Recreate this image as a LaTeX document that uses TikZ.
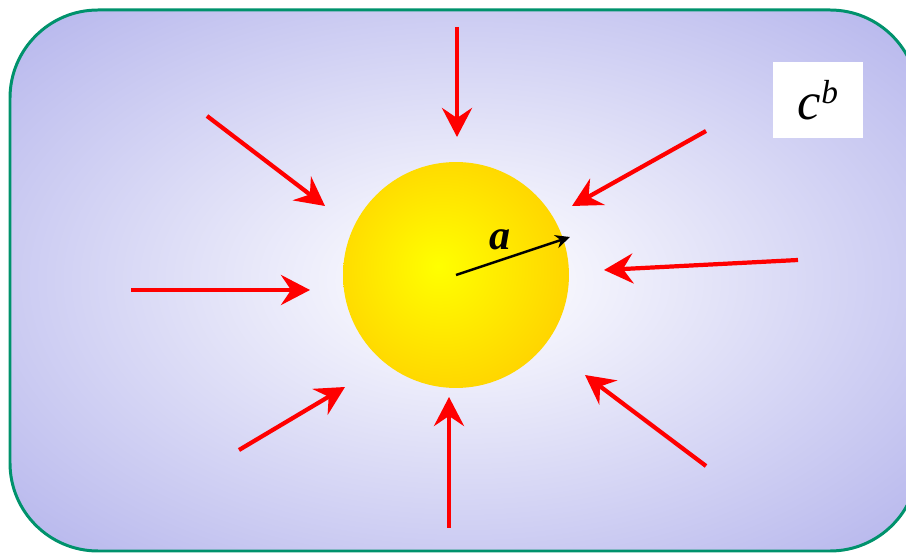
\documentclass[tikz,border=0pt]{standalone}
\usepackage{fontspec}
\setmainfont{Liberation Serif}
\usepackage{tikz}
\usetikzlibrary{arrows.meta}

\definecolor{bgin}{RGB}{246,246,253}
\definecolor{bgout}{RGB}{184,184,237}
\definecolor{bgedge}{RGB}{172,172,233}
\definecolor{sunin}{RGB}{255,255,0}
\definecolor{sunout}{RGB}{255,206,0}
\definecolor{panelline}{RGB}{0,146,108}

\pgfdeclareradialshading{bgglow}{\pgfpoint{0bp}{0bp}}{color(0bp)=(bgin); color(5bp)=(bgin); color(34bp)=(bgout); color(50bp)=(bgedge); color(72bp)=(bgedge)}
\pgfdeclareradialshading{sunglow}{\pgfpoint{-4bp}{2bp}}{color(0bp)=(sunin); color(32bp)=(sunout); color(60bp)=(sunout)}

\begin{document}
\begin{tikzpicture}[
  x=0.02cm, y=-0.02cm,
  panel/.style={draw=panelline, line width=1.7pt, rounded corners=1.76cm, shading=bgglow},
  sun/.style={circle, minimum size=4.52cm, inner sep=0pt, shading=sunglow},
  stamp/.style={rectangle, fill=white, minimum width=1.8cm, minimum height=1.52cm, inner sep=0pt},
  flux/.style={->, red, line width=2.4pt},
  ray/.style={-{Stealth[length=2.9mm,width=2.7mm]}, line width=1.4pt},
  >/.tip={Stealth[length=5.8mm,width=6mm,inset=2mm]}
]
\useasboundingbox (0,0) rectangle (906,553);
\clip (0,0) rectangle (906,553);

\path[panel] (10,10) rectangle (918,551);

\node (sun) at (456,275) [sun] {};
\node (cb) at (818,100) [stamp] {\fontsize{30}{32}\selectfont\itshape c\raisebox{9pt}{\fontsize{19}{20}\selectfont b}};

% radius
\coordinate (rim) at (570,237);
\draw [ray] (sun.center) -- (rim);
\node (a) at (500,240) {\fontsize{24}{26}\selectfont\bfseries\itshape a};

% inflow
\coordinate (Ns) at (457,27);   \coordinate (Ne) at (457,137);
\coordinate (NWs) at (207,116); \coordinate (NWe) at (325,206);
\coordinate (NEs) at (706,131); \coordinate (NEe) at (572,206);
\coordinate (Ws) at (131,290);  \coordinate (We) at (310,290);
\coordinate (Es) at (798,260);  \coordinate (Ee) at (604,270);
\coordinate (SWs) at (239,450); \coordinate (SWe) at (345,387);
\coordinate (Ss) at (449,528);  \coordinate (Se) at (449,397);
\coordinate (SEs) at (706,466); \coordinate (SEe) at (585,375);

\draw [flux] (Ns) -- (Ne);
\draw [flux] (NWs) -- (NWe);
\draw [flux] (NEs) -- (NEe);
\draw [flux] (Ws) -- (We);
\draw [flux] (Es) -- (Ee);
\draw [flux] (SWs) -- (SWe);
\draw [flux] (Ss) -- (Se);
\draw [flux] (SEs) -- (SEe);

\end{tikzpicture}
\end{document}
